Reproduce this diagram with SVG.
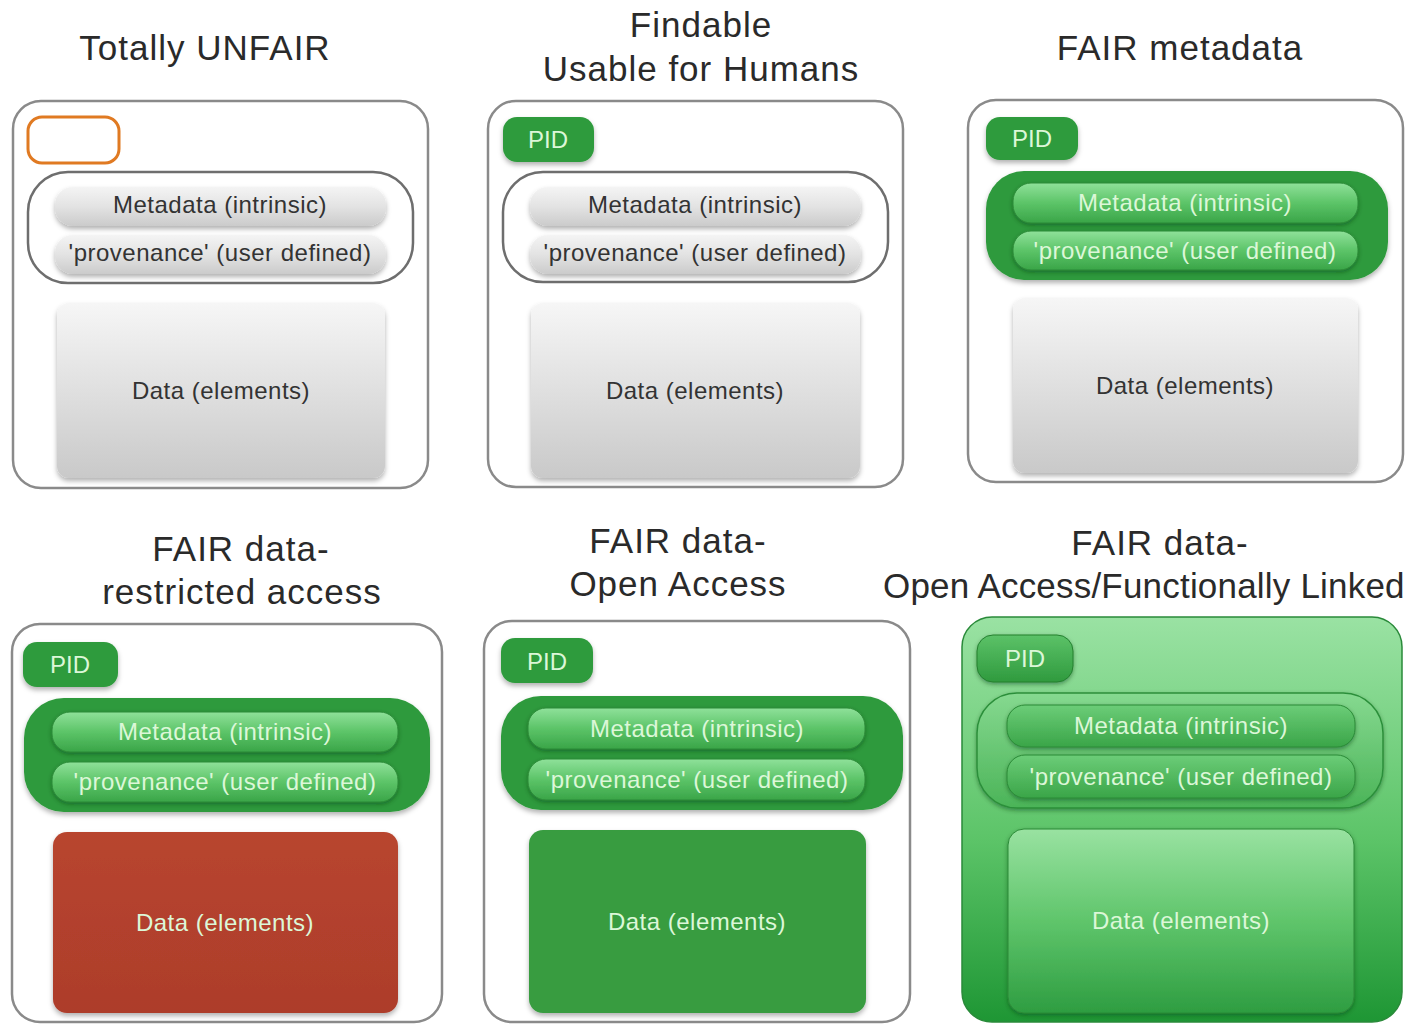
<svg xmlns="http://www.w3.org/2000/svg" width="1413" height="1024" viewBox="0 0 1413 1024">
<defs>
<style>
text{font-family:"Liberation Sans",Arial,"Noto Sans",sans-serif;}
.title{font-size:35px;fill:#2a2a2a;text-anchor:middle;letter-spacing:1px;}
.lbl{font-size:24px;fill:#333;text-anchor:middle;letter-spacing:0.5px;}
.glbl{font-size:24px;fill:#dcf7d8;text-anchor:middle;letter-spacing:0.5px;}
.pidt{font-size:24px;fill:#dcf7d8;text-anchor:middle;}
.outer{fill:#fff;stroke:#8a8a8a;stroke-width:2.5;}
.grpw{fill:#fff;stroke:#6e6e6e;stroke-width:2.5;}
.graybar{fill:url(#gBar);filter:url(#sh);}
.graydata{fill:url(#gData);filter:url(#sh);}
.pid{fill:#2f9b3d;filter:url(#sh);}
.grpg{fill:#2e9a3c;filter:url(#sh);}
.gbar{fill:url(#lgBar);stroke:#2b8a37;stroke-width:1;filter:url(#sh2);}
.red{fill:url(#redG);filter:url(#sh);}
.gdata{fill:#389c41;filter:url(#sh);}
</style>
<filter id="sh" x="-10%" y="-10%" width="120%" height="130%">
<feDropShadow dx="0" dy="3" stdDeviation="2.5" flood-color="#000" flood-opacity="0.3"/>
</filter>
<filter id="sh2" x="-10%" y="-20%" width="120%" height="150%">
<feDropShadow dx="0" dy="2" stdDeviation="2" flood-color="#0b3d12" flood-opacity="0.45"/>
</filter>
<linearGradient id="gBar" x1="0" y1="0" x2="0" y2="1">
<stop offset="0" stop-color="#f4f4f4"/><stop offset="0.5" stop-color="#e3e3e3"/><stop offset="1" stop-color="#cbcbcb"/>
</linearGradient>
<linearGradient id="gData" x1="0" y1="0" x2="0" y2="1">
<stop offset="0" stop-color="#f6f6f6"/><stop offset="1" stop-color="#c9c9c9"/>
</linearGradient>
<linearGradient id="lgBar" x1="0" y1="0" x2="0" y2="1">
<stop offset="0" stop-color="#8fe19a"/><stop offset="0.5" stop-color="#5cc468"/><stop offset="1" stop-color="#3aa548"/>
</linearGradient>
<linearGradient id="redG" x1="0" y1="0" x2="0" y2="1">
<stop offset="0" stop-color="#b8452f"/><stop offset="1" stop-color="#ad3d2b"/>
</linearGradient>
<linearGradient id="p6outer" x1="0" y1="0" x2="0" y2="1">
<stop offset="0" stop-color="#9ae2a3"/><stop offset="0.55" stop-color="#5cc468"/><stop offset="1" stop-color="#1e9634"/>
</linearGradient>
<linearGradient id="p6grp" x1="0" y1="0" x2="0" y2="1">
<stop offset="0" stop-color="#86d990"/><stop offset="1" stop-color="#4bb458"/>
</linearGradient>
<linearGradient id="p6bar" x1="0" y1="0" x2="0" y2="1">
<stop offset="0" stop-color="#6ccd78"/><stop offset="1" stop-color="#3aa548"/>
</linearGradient>
<linearGradient id="p6data" x1="0" y1="0" x2="0" y2="1">
<stop offset="0" stop-color="#99e2a1"/><stop offset="0.5" stop-color="#5fc56b"/><stop offset="1" stop-color="#2e9d41"/>
</linearGradient>
<linearGradient id="p6pid" x1="0" y1="0" x2="0" y2="1">
<stop offset="0" stop-color="#5cc268"/><stop offset="1" stop-color="#2f9a3e"/>
</linearGradient>
</defs>

<g id="connectors"></g>

<!-- Panel 1 -->
<g id="panel1">
<text class="title" x="205" y="60">Totally UNFAIR</text>
<g id="p1-frame"><rect class="outer" x="13" y="101" width="415" height="387" rx="28"/></g>
<g id="p1-id"><rect x="28" y="117" width="91" height="46" rx="14" fill="#fff" stroke="#e07a22" stroke-width="3"/></g>
<g id="p1-metagroup"><rect class="grpw" x="28" y="172" width="385" height="111" rx="40"/></g>
<g id="p1-meta"><rect class="graybar" x="55" y="187" width="331" height="39" rx="18"/><text class="lbl" x="220" y="213">Metadata (intrinsic)</text></g>
<g id="p1-prov"><rect class="graybar" x="55" y="235" width="331" height="39" rx="18"/><text class="lbl" x="220" y="261">'provenance' (user defined)</text></g>
<g id="p1-data"><rect class="graydata" x="57" y="303" width="328" height="175" rx="12"/><text class="lbl" x="221" y="399">Data (elements)</text></g>
</g>

<!-- Panel 2 -->
<g id="panel2">
<text class="title" x="701" y="37">Findable</text>
<text class="title" x="701" y="81">Usable for Humans</text>
<g id="p2-frame"><rect class="outer" x="488" y="101" width="415" height="386" rx="28"/></g>
<g id="p2-pid"><rect class="pid" x="503" y="117" width="91" height="45" rx="14"/><text class="pidt" x="548" y="148">PID</text></g>
<g id="p2-metagroup"><rect class="grpw" x="503" y="172" width="385" height="110" rx="40"/></g>
<g id="p2-meta"><rect class="graybar" x="530" y="187" width="331" height="39" rx="18"/><text class="lbl" x="695" y="213">Metadata (intrinsic)</text></g>
<g id="p2-prov"><rect class="graybar" x="530" y="235" width="331" height="39" rx="18"/><text class="lbl" x="695" y="261">'provenance' (user defined)</text></g>
<g id="p2-data"><rect class="graydata" x="531" y="303" width="329" height="175" rx="12"/><text class="lbl" x="695" y="399">Data (elements)</text></g>
</g>

<!-- Panel 3 -->
<g id="panel3">
<text class="title" x="1180" y="60">FAIR metadata</text>
<g id="p3-frame"><rect class="outer" x="968" y="100" width="435" height="382" rx="28"/></g>
<g id="p3-pid"><rect class="pid" x="986" y="117" width="92" height="43" rx="14"/><text class="pidt" x="1032" y="147">PID</text></g>
<g id="p3-metagroup"><rect class="grpg" x="986" y="171" width="402" height="109" rx="38"/></g>
<g id="p3-meta"><rect class="gbar" x="1013" y="183" width="345" height="40" rx="18"/><text class="glbl" x="1185" y="211">Metadata (intrinsic)</text></g>
<g id="p3-prov"><rect class="gbar" x="1013" y="231" width="345" height="39" rx="18"/><text class="glbl" x="1185" y="259">'provenance' (user defined)</text></g>
<g id="p3-data"><rect class="graydata" x="1013" y="298" width="345" height="175" rx="12"/><text class="lbl" x="1185" y="394">Data (elements)</text></g>
</g>

<!-- Panel 4 -->
<g id="panel4">
<text class="title" x="241" y="561">FAIR data-</text>
<text class="title" x="242" y="604">restricted access</text>
<g id="p4-frame"><rect class="outer" x="12" y="624" width="430" height="398" rx="28"/></g>
<g id="p4-pid"><rect class="pid" x="23" y="642" width="95" height="45" rx="14"/><text class="pidt" x="70" y="673">PID</text></g>
<g id="p4-metagroup"><rect class="grpg" x="24" y="698" width="406" height="114" rx="40"/></g>
<g id="p4-meta"><rect class="gbar" x="52" y="712" width="346" height="40" rx="18"/><text class="glbl" x="225" y="740">Metadata (intrinsic)</text></g>
<g id="p4-prov"><rect class="gbar" x="52" y="762" width="346" height="40" rx="18"/><text class="glbl" x="225" y="790">'provenance' (user defined)</text></g>
<g id="p4-data"><rect class="red" x="53" y="832" width="345" height="181" rx="14"/><text class="glbl" x="225" y="931">Data (elements)</text></g>
</g>

<!-- Panel 5 -->
<g id="panel5">
<text class="title" x="678" y="553">FAIR data-</text>
<text class="title" x="678" y="596">Open Access</text>
<g id="p5-frame"><rect class="outer" x="484" y="621" width="426" height="401" rx="28"/></g>
<g id="p5-pid"><rect class="pid" x="501" y="638" width="92" height="45" rx="14"/><text class="pidt" x="547" y="670">PID</text></g>
<g id="p5-metagroup"><rect class="grpg" x="501" y="696" width="402" height="114" rx="40"/></g>
<g id="p5-meta"><rect class="gbar" x="528" y="708" width="337" height="41" rx="18"/><text class="glbl" x="697" y="737">Metadata (intrinsic)</text></g>
<g id="p5-prov"><rect class="gbar" x="528" y="759" width="337" height="41" rx="18"/><text class="glbl" x="697" y="788">'provenance' (user defined)</text></g>
<g id="p5-data"><rect class="gdata" x="529" y="830" width="337" height="183" rx="14"/><text class="glbl" x="697" y="930">Data (elements)</text></g>
</g>

<!-- Panel 6 -->
<g id="panel6">
<text class="title" x="1160" y="555">FAIR data-</text>
<text class="title" x="883" y="598" style="text-anchor:start;letter-spacing:0.2px">Open Access/Functionally Linked</text>
<g id="p6-frame"><rect x="962" y="617" width="440" height="405" rx="30" fill="url(#p6outer)" stroke="#2a8a3a" stroke-width="1.5"/></g>
<g id="p6-pid"><rect x="977" y="635" width="96" height="47" rx="16" fill="url(#p6pid)" stroke="#24802f" stroke-width="1" filter="url(#sh2)"/><text class="pidt" x="1025" y="667">PID</text></g>
<g id="p6-metagroup"><rect x="977" y="693" width="406" height="115" rx="40" fill="url(#p6grp)" stroke="#2c8f3a" stroke-width="1.5" filter="url(#sh2)"/></g>
<g id="p6-meta"><rect x="1007" y="705" width="348" height="42" rx="18" fill="url(#p6bar)" stroke="#2b8a37" stroke-width="1" filter="url(#sh2)"/><text class="glbl" x="1181" y="734">Metadata (intrinsic)</text></g>
<g id="p6-prov"><rect x="1007" y="755" width="348" height="43" rx="18" fill="url(#p6bar)" stroke="#2b8a37" stroke-width="1" filter="url(#sh2)"/><text class="glbl" x="1181" y="785">'provenance' (user defined)</text></g>
<g id="p6-data"><rect x="1008" y="829" width="346" height="184" rx="16" fill="url(#p6data)" stroke="#2b8a37" stroke-width="1" filter="url(#sh2)"/><text class="glbl" x="1181" y="929">Data (elements)</text></g>
</g>
</svg>
